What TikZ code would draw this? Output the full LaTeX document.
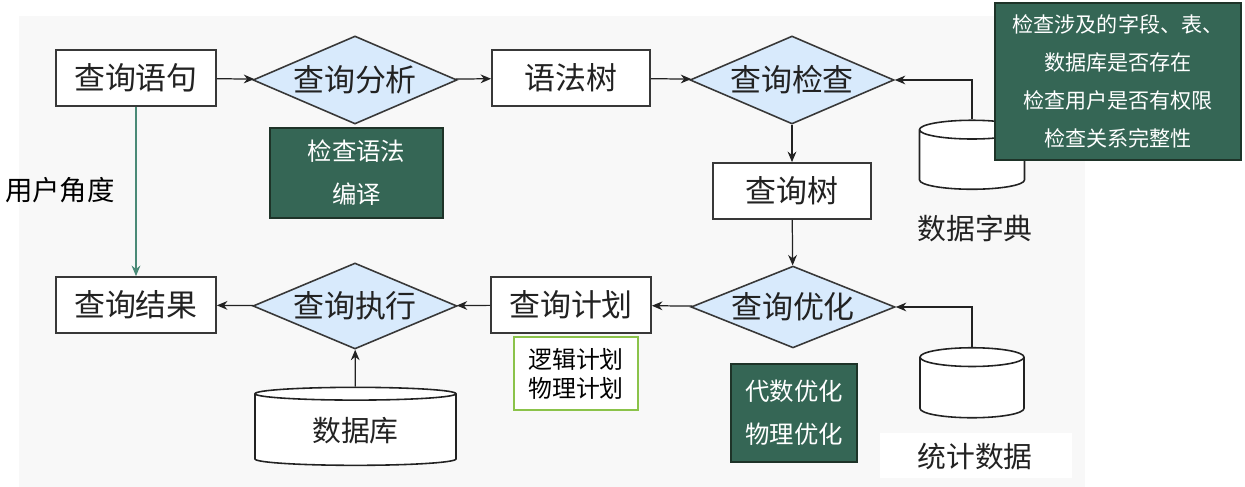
\documentclass[tikz,border=0pt]{standalone}
\usepackage{fontspec}
\newfontfamily\cjk{Noto Sans CJK SC}
\usetikzlibrary{shapes.geometric,arrows.meta,positioning}
\definecolor{diafill}{HTML}{D8EAFC}
\definecolor{notefill}{HTML}{356655}
\definecolor{notedraw}{HTML}{1E3328}
\definecolor{userline}{HTML}{4A8A77}
\definecolor{planline}{HTML}{8BC34A}
\definecolor{bggray}{HTML}{F8F8F8}
\definecolor{txt}{HTML}{222222}

\begin{document}
\begin{tikzpicture}[
  box/.style={rectangle, draw=txt!90, line width=1pt, fill=white, minimum width=3.2cm, minimum height=1.12cm, font=\cjk\fontsize{17.6}{20}\selectfont, text=txt},
  dia/.style={diamond, draw=txt!90, line width=0.9pt, fill=diafill, aspect=2.32, inner sep=0pt, minimum width=4.08cm, minimum height=1.76cm, font=\cjk\fontsize{17.6}{20}\selectfont, text=txt},
  note/.style={rectangle, draw=notedraw, line width=0.8pt, fill=notefill, text=white, align=center, font=\cjk\fontsize{13.9}{24.5}\selectfont},
  db/.style={cylinder, shape border rotate=90, draw=txt, line width=0.9pt, fill=white, aspect=1.6, font=\cjk\fontsize{16.4}{20}\selectfont, text=txt},
  lbl/.style={font=\cjk\fontsize{16.4}{20}\selectfont, text=txt},
  arr/.style={-{Stealth[length=6pt,width=5pt]}, line width=0.7pt, txt}
]
  % canvas
  \useasboundingbox (0,0) rectangle (24.9,-9.74);
  \fill[bggray] (0.38,-0.32) rectangle (21.7,-9.74);

  % top row
  \node[box] (stmt) at (2.72,-1.56) {查询语句};
  \node[dia] (parse) at (7.10,-1.60) {查询分析};
  \node[box, minimum width=3.16cm] (syntree) at (11.42,-1.56) {语法树};
  \node[dia] (check) at (15.84,-1.60) {查询检查};
  \node[box, minimum width=3.16cm] (qtree) at (15.84,-3.82) {查询树};
  \node[note, minimum width=3.46cm, minimum height=1.80cm] (grammar) at (7.13,-3.46) {检查语法\\编译};

  % data dictionary
  \node[db, minimum width=2.10cm, minimum height=1.38cm] (dict) at (19.44,-3.24) {};
  \node[lbl] (dictlbl) at (19.5,-4.56) {数据字典};
  \node[note, minimum width=4.92cm, minimum height=3.14cm, font=\cjk\fontsize{12}{21.5}\selectfont] (checks) at (22.36,-1.63)
    {检查涉及的字段、表、\\数据库是否存在\\检查用户是否有权限\\检查关系完整性};

  % user side
  \node[font=\cjk\fontsize{15.6}{18}\selectfont, text=black] (user) at (1.2,-3.8) {用户角度};

  % bottom row
  \node[box] (result) at (2.72,-6.10) {查询结果};
  \node[dia, minimum height=1.72cm] (exec) at (7.10,-6.12) {查询执行};
  \node[db, minimum width=4.02cm, minimum height=1.56cm, aspect=0.13] (database) at (7.11,-8.62) {数据库};
  \node[box] (plan) at (11.42,-6.10) {查询计划};
  \node[rectangle, draw=planline, line width=1pt, fill=white, align=left, minimum width=2.48cm, minimum height=1.46cm, font=\cjk\fontsize{13.6}{16.5}\selectfont] (plans) at (11.52,-7.47) {逻辑计划\\物理计划};
  \node[dia, minimum height=1.6cm] (opt) at (15.86,-6.14) {查询优化};
  \node[note, minimum width=2.52cm, minimum height=1.96cm] (algebra) at (15.88,-8.26) {代数优化\\物理优化};

  % statistics
  \node[db, minimum width=2.08cm, minimum height=1.40cm] (stats) at (19.44,-7.80) {};
  \fill[white] (17.6,-8.66) rectangle (21.44,-9.56);
  \node[lbl] (statslbl) at (19.5,-9.14) {统计数据};

  % connectors
  \draw[arr] (stmt) -- (parse);
  \draw[arr] (parse) -- (syntree);
  \draw[arr] (syntree) -- (check);
  \draw[arr] (check) -- (qtree);
  \draw[arr] (qtree) -- (opt);
  \draw[arr] (opt) -- (plan);
  \draw[arr] (plan) -- (exec);
  \draw[arr] (exec) -- (result);
  \draw[arr] (database) -- (exec);
  \draw[arr] (dict.top) |- (check.east);
  \draw[arr] (stats.top) |- (opt.east);
  \draw[-{Stealth[length=6pt,width=5pt]}, line width=0.7pt, userline] (stmt.south) -- (result.north);
\end{tikzpicture}
\end{document}
